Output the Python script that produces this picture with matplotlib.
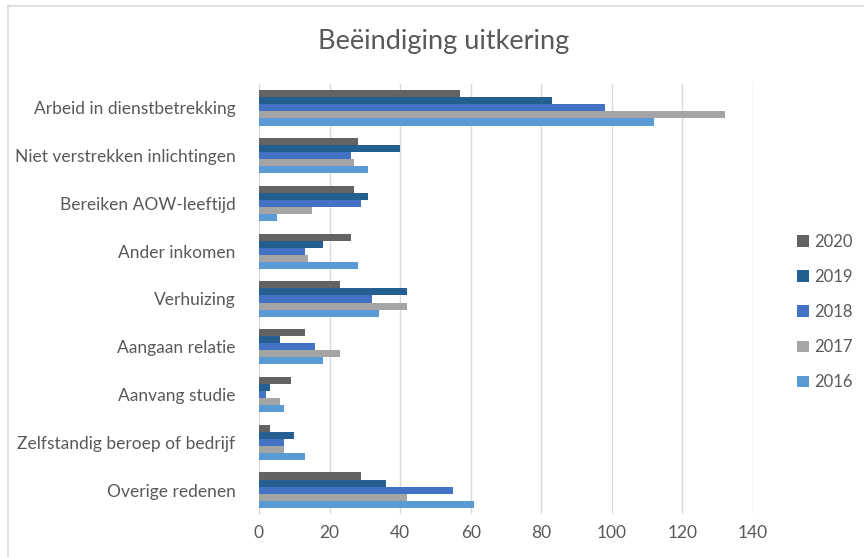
import numpy as np
import matplotlib.pyplot as plt
from matplotlib.lines import Line2D

# categories top to bottom
categories = ['Arbeid in dienstbetrekking', 'Niet verstrekken inlichtingen',
              'Bereiken AOW-leeftijd', 'Ander inkomen', 'Verhuizing',
              'Aangaan relatie', 'Aanvang studie',
              'Zelfstandig beroep of bedrijf', 'Overige redenen']

years = ['2020', '2019', '2018', '2017', '2016']
v2020 = [57, 28, 27, 26, 23, 13, 9, 3, 29]
v2019 = [83, 40, 31, 18, 42, 6, 3, 10, 36]
v2018 = [98, 26, 29, 13, 32, 16, 2, 7, 55]
v2017 = [132, 27, 15, 14, 42, 23, 6, 7, 42]
v2016 = [112, 31, 5, 28, 34, 18, 7, 13, 61]
series = [v2020, v2019, v2018, v2017, v2016]
colors = ['#636363', '#255E91', '#4472C4', '#A5A5A5', '#5B9BD5']

ticks = [0, 20, 40, 60, 80, 100, 120, 140]

plt.rcParams['font.family'] = ['Lato', 'DejaVu Sans']

fig = plt.figure(figsize=(8.64, 5.57), dpi=100)
ax = fig.add_axes([259 / 864, 1 - 514 / 557, (753 - 259) / 864, 430 / 557])

n = len(categories)
y = np.arange(n)
h = 0.148
for i, (vals, col) in enumerate(zip(series, colors)):
    offs = (i - 2) * h
    ax.barh(y + offs, vals, height=h, color=col, label=years[i], zorder=3)

ax.set_ylim(n - 0.5, -0.5)
ax.set_xlim(0, 140)
ax.set_xticks(ticks)
ax.set_yticks(y)
ax.set_yticklabels(categories)
ax.tick_params(axis='both', length=0, labelsize=12.5, colors='#595959')
ax.tick_params(axis='y', pad=17)
ax.tick_params(axis='x', pad=8)
ax.grid(axis='x', color='#D9D9D9', linewidth=1, zorder=0)
for s in ['top', 'right', 'bottom']:
    ax.spines[s].set_visible(False)
ax.spines['left'].set_color('#D9D9D9')

fig.text(444 / 864, 1 - 42 / 557, 'Beëindiging uitkering', ha='center',
         va='center', fontsize=19.5, color='#595959')

handles, labels = ax.get_legend_handles_labels()
leg = fig.legend(handles, labels, loc='center left',
                 bbox_to_anchor=(782 / 864, 1 - 312 / 557), frameon=False,
                 fontsize=12, handlelength=0.7, handleheight=0.7,
                 labelspacing=1.15, handletextpad=0.35)
for t in leg.get_texts():
    t.set_color('#595959')

# chart frame
fig.add_artist(Line2D([8 / 864, 1], [1 - 6 / 557, 1 - 6 / 557],
                      transform=fig.transFigure, color='#D9D9D9', lw=1.2))
fig.add_artist(Line2D([8 / 864, 8 / 864], [0, 1 - 6 / 557],
                      transform=fig.transFigure, color='#D9D9D9', lw=1.2))

plt.savefig('out.png', dpi=100)
